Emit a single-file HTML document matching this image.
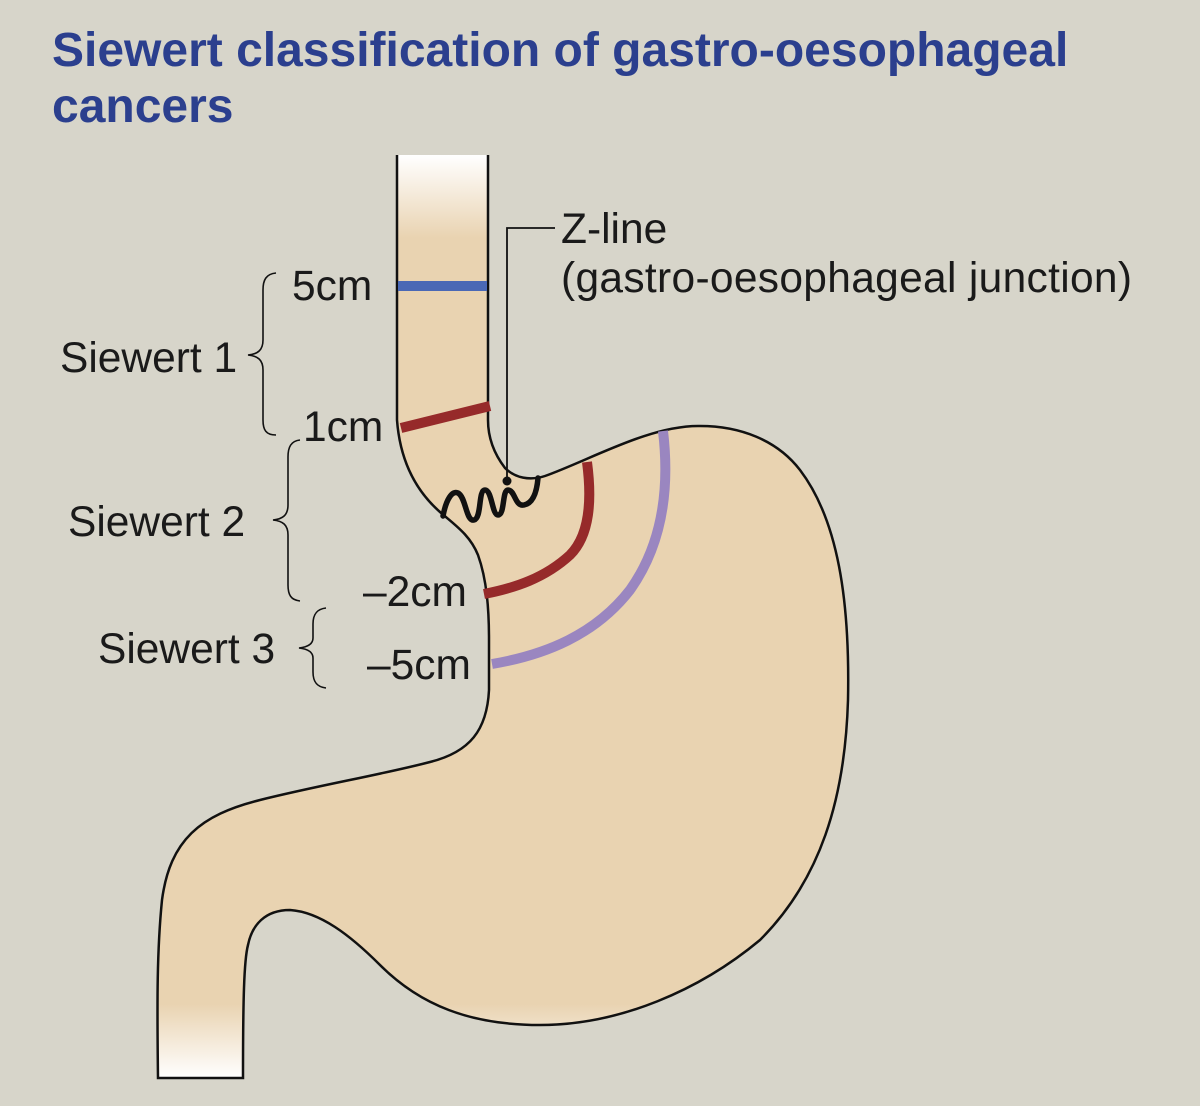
<!DOCTYPE html>
<html><head><meta charset="utf-8"><style>
html,body{margin:0;padding:0;background:#d7d5ca;}
svg{display:block;}
</style></head><body>
<svg width="1200" height="1106" viewBox="0 0 1200 1106" xmlns="http://www.w3.org/2000/svg">
<defs>
<linearGradient id="g" x1="0" y1="155" x2="0" y2="1078" gradientUnits="userSpaceOnUse">
<stop offset="0" stop-color="#ffffff"/>
<stop offset="0.09" stop-color="#e9d3b1"/>
<stop offset="0.92" stop-color="#e9d3b1"/>
<stop offset="1" stop-color="#ffffff"/>
</linearGradient>
</defs>
<rect width="1200" height="1106" fill="#d7d5ca"/>
<text x="52" y="66" font-family="Liberation Sans, sans-serif" font-weight="bold" font-size="48" fill="#2b3f8e">Siewert classification of gastro-oesophageal</text>
<text x="52" y="122" font-family="Liberation Sans, sans-serif" font-weight="bold" font-size="48" fill="#2b3f8e">cancers</text>

<path d="M397,155 L397,420 C400,460 415,490 440,512 C455,525 470,535 478,555 C487,580 489,610 489,640 L489,690 C487,730 470,752 430,762 C380,775 320,785 260,800 C200,815 170,840 162,900 C157,950 157,1000 158,1078 L243,1078 C243,1000 244,960 248,945 C252,925 265,910 290,910 C320,912 350,935 380,965 C420,1005 470,1025 540,1025 C620,1025 700,990 760,940 C820,880 845,800 848,700 C850,600 838,520 800,470 C777,440 740,426 700,426 C650,425 590,460 545,476 C530,481 515,478 505,468 C495,455 488,440 488,420 L488,155" fill="url(#g)" stroke="#111" stroke-width="2.5"/>

<line x1="398" y1="286" x2="487" y2="286" stroke="#4a68b5" stroke-width="10"/>
<line x1="401" y1="428" x2="490" y2="406" stroke="#962a2a" stroke-width="10"/>
<path d="M587,462 C592,500 590,535 570,555 C545,578 515,588 484,594" fill="none" stroke="#962a2a" stroke-width="10"/>
<path d="M663,431 C670,490 662,545 630,590 C595,635 545,655 492,664" fill="none" stroke="#9a86c0" stroke-width="10"/>

<path d="M443,516 C446,500 452,490 458,493 C466,497 466,522 474,520 C482,518 478,490 485,490 C492,490 492,515 498,515 C505,515 502,490 508,490 C515,490 515,507 524,505 C534,503 537,490 538,478" fill="none" stroke="#111" stroke-width="5.5" stroke-linecap="round"/>
<polyline points="507,481 507,228 555,228" fill="none" stroke="#111" stroke-width="1.8"/>
<circle cx="507" cy="481" r="4.5" fill="#111"/>

<g fill="none" stroke="#111" stroke-width="1.6">
<path d="M276,273 C266,274 263,280 263,290 L263,340 C263,350 258,354 248,355 C258,356 263,360 263,370 L263,420 C263,430 266,435 276,435"/>
<path d="M300,440 C291,441 288,447 288,457 L288,505 C288,515 283,519 273,520 C283,521 288,525 288,535 L288,585 C288,595 291,600 300,601"/>
<path d="M326,608 C317,609 313,614 313,624 L313,638 C313,644 308,647 299,648 C308,649 313,652 313,658 L313,672 C313,682 317,687 326,688"/>
</g>

<g font-family="Liberation Sans, sans-serif" font-size="42.5" fill="#1a1a1a">
<text x="292" y="300">5cm</text>
<text x="303" y="441">1cm</text>
<text x="363" y="606">–2cm</text>
<text x="367" y="679">–5cm</text>
<text x="60" y="372">Siewert 1</text>
<text x="68" y="536">Siewert 2</text>
<text x="98" y="663">Siewert 3</text>
<text x="561" y="243">Z-line</text>
<text x="561" y="292" textLength="571">(gastro-oesophageal junction)</text>
</g>
</svg>
</body></html>
